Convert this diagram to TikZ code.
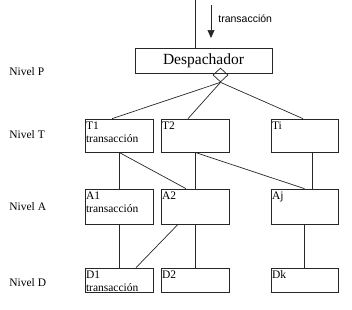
\documentclass[tikz,border=0pt]{standalone}
\usepackage{fontspec}
\setmainfont{Liberation Serif}
\newfontfamily\arialfont{Liberation Sans}
\usetikzlibrary{arrows.meta,shapes.geometric}

\begin{document}
\begin{tikzpicture}[x=1pt, y=-1pt, font=\fontsize{11.5}{13.5}\selectfont,
  line width=0.7pt, draw=black!85,
  caja/.style={draw, minimum width=68pt, inner sep=0pt},
  filaT/.style={caja, minimum height=33pt},
  filaA/.style={caja, minimum height=35pt},
  filaD/.style={caja, minimum height=24pt},
  texto/.style={anchor=north west, inner sep=1pt, yshift=-1.5pt, align=left},
  nivel/.style={anchor=west, inner sep=0pt}]
\useasboundingbox (0,0) rectangle (352,309);
% entrada
\coordinate (entra) at (195,0);
\coordinate (fa) at (211,5);
\coordinate (fb) at (211,38);
\draw[-{Triangle[length=8pt,width=7pt]}] (fa) -- (fb);
\node[anchor=west, inner sep=0pt, font=\arialfont\fontsize{10.5}{12}\selectfont] (etq) at (218,19) {transacción};
% despachador
\node[draw, minimum width=137pt, minimum height=25.5pt, inner sep=0pt, font=\fontsize{15.5}{18}\selectfont] (desp) at (203.5,60.75) {Despachador};
\draw ([xshift=-8.5pt]desp.north) -- (entra);
\node[diamond, draw, minimum width=15pt, minimum height=14pt, inner sep=0pt] (dia) at (220.5,75) {};
% niveles
\node[nivel] (np) at (9,72) {Nivel P};
\node[nivel] (nt) at (9,135) {Nivel T};
\node[nivel] (na) at (9,207) {Nivel A};
\node[nivel] (nd) at (9,283) {Nivel D};
% fila T
\node[filaT, label={[texto]north west:{T1\\transacción}}] (t1) at (119,135.5) {};
\node[filaT, label={[texto]north west:T2}] (t2) at (195,135.5) {};
\node[filaT, minimum width=67pt, label={[texto]north west:Ti}] (ti) at (304.5,135.5) {};
% fila A
\node[filaA, label={[texto]north west:{A1\\transacción}}] (a1) at (119,206.5) {};
\node[filaA, label={[texto]north west:A2}] (a2) at (195,206.5) {};
\node[filaA, minimum width=67pt, label={[texto]north west:Aj}] (aj) at (304.5,206.5) {};
% fila D
\node[filaD, label={[texto]north west:{D1\\transacción}}] (d1) at (119,280) {};
\node[filaD, label={[texto]north west:D2}] (d2) at (195,280) {};
\node[filaD, minimum width=67pt, label={[texto]north west:Dk}] (dk) at (304.5,280) {};
% enlaces
\draw (dia.south) -- ([xshift=-7pt]t1.north);
\draw (dia.south) -- ([xshift=-7pt]t2.north);
\draw (dia.south) -- ([xshift=-1.5pt]ti.north);
\draw (t1.south) -- (a1.north);
\draw (t1.south) -- ([xshift=-9pt]a2.north);
\draw (t2.south) -- (a2.north);
\draw (t2.south) -- (aj.north);
\draw ([xshift=8pt]ti.south) -- ([xshift=8pt]aj.north);
\draw (a1.south) -- (d1.north);
\draw ([xshift=-17pt]a2.south) -- ([xshift=17pt]d1.north);
\draw (a2.south) -- (d2.north);
\draw (aj.south) -- (dk.north);
\end{tikzpicture}
\end{document}
